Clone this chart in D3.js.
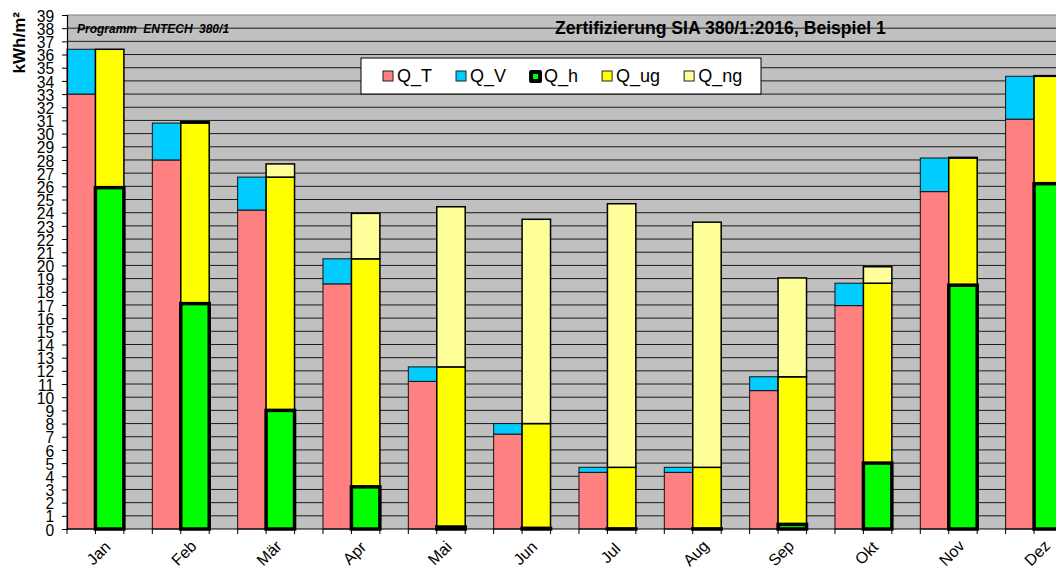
<!DOCTYPE html>
<html>
<head>
<meta charset="utf-8">
<script src="https://cdn.jsdelivr.net/npm/d3@7"></script>
<style>
  html, body { margin: 0; padding: 0; background: #fff; }
  svg { display: block; font-family: "Liberation Sans", Arial, sans-serif; }
</style>
</head>
<body>
<div id="chart"></div>
<script>
// monthly values, kWh/m2
let months = ["Jan", "Feb", "Mär", "Apr", "Mai", "Jun", "Jul", "Aug", "Sep", "Okt", "Nov", "Dez"];
let q_t  = [33.0, 28.0, 24.2, 18.6, 11.2, 7.2, 4.3, 4.3, 10.5, 16.95, 25.6, 31.1];
let q_v  = [3.4, 2.8, 2.5, 1.9, 1.1, 0.8, 0.38, 0.38, 1.05, 1.7, 2.55, 3.25];
let q_h  = [25.9, 17.1, 9.0, 3.2, 0.15, 0.05, 0.01, 0.01, 0.35, 5.0, 18.5, 26.2];
let q_ug = [10.5, 13.7, 17.7, 17.3, 12.15, 7.95, 4.67, 4.67, 11.2, 13.65, 9.65, 8.15];
let q_ng = [0, 0.1, 1.0, 3.45, 12.15, 15.5, 20.0, 18.6, 7.5, 1.25, 0.05, 0.05];
let y_ticks = d3.range(0, 40);
let legend_items = [
    {key: "Q_T", color: "#ff8080"},
    {key: "Q_V", color: "#00ccff"},
    {key: "Q_h", color: "#00ff00"},
    {key: "Q_ug", color: "#ffff00"},
    {key: "Q_ng", color: "#ffff99"}
];
let title = "Zertifizierung SIA 380/1:2016, Beispiel 1";
let subtitle = "Programm ENTECH 380/1";
let y_label = "kWh/m²";

let width = 1056;
let height = 570;
let margin = ({top: 15, left: 67, bottom: 41});
let band_w = 85.33;

let color = key => legend_items.find(d => d.key == key).color;

let svg = d3.select("#chart").append("svg")
            .attr("width", width)
            .attr("height", height);

let x = d3.scaleBand()
          .domain(months)
          .range([margin.left, margin.left + band_w * months.length])
          .padding(0);

let sub = d3.scaleBand()
            .domain(["loss", "gain", "gap"])
            .range([0, x.bandwidth()]);

let y = d3.scaleLinear()
          .domain([0, 39])
          .range([height - margin.bottom, margin.top]);

// plot background
svg.append("rect")
   .attr("x", margin.left)
   .attr("y", y(39))
   .attr("width", x.range()[1] - margin.left)
   .attr("height", y(0) - y(39))
   .attr("fill", "#c0c0c0");

// grid
svg.append("g")
   .selectAll("line")
   .data(y_ticks.filter(d => d > 0))
   .join("line")
   .attr("x1", margin.left)
   .attr("x2", x.range()[1])
   .attr("y1", d => y(d))
   .attr("y2", d => y(d))
   .attr("stroke", d => d == 39 ? "#808080" : "#1a1a1a")
   .attr("stroke-width", 1);

// stacked data per month
let rows = months.map((m, i) => ({
    month: m,
    loss: [["Q_T", 0, q_t[i]], ["Q_V", q_t[i], q_t[i] + q_v[i]]],
    gain: [["Q_ug", q_h[i], q_h[i] + q_ug[i]], ["Q_ng", q_h[i] + q_ug[i], q_h[i] + q_ug[i] + q_ng[i]]],
    heat: ["Q_h", 0, q_h[i]]
}));

let bars = svg.append("g");

bars.selectAll("g.loss")
    .data(rows)
    .join("g")
    .attr("class", "loss")
    .selectAll("rect")
    .data(d => d.loss.map(s => ({month: d.month, key: s[0], y0: s[1], y1: s[2]})))
    .join("rect")
    .attr("x", d => x(d.month) + sub("loss"))
    .attr("y", d => y(d.y1))
    .attr("width", sub.bandwidth())
    .attr("height", d => y(d.y0) - y(d.y1))
    .attr("fill", d => color(d.key))
    .attr("stroke", "#111")
    .attr("stroke-width", 1);

bars.selectAll("g.gain")
    .data(rows)
    .join("g")
    .attr("class", "gain")
    .selectAll("rect")
    .data(d => d.gain.filter(s => s[2] > s[1]).map(s => ({month: d.month, key: s[0], y0: s[1], y1: s[2]})))
    .join("rect")
    .attr("x", d => x(d.month) + sub("gain"))
    .attr("y", d => y(d.y1))
    .attr("width", sub.bandwidth())
    .attr("height", d => y(d.y0) - y(d.y1))
    .attr("fill", d => color(d.key))
    .attr("stroke", "#000")
    .attr("stroke-width", 1.5);

bars.selectAll("rect.heat")
    .data(rows)
    .join("rect")
    .attr("class", "heat")
    .attr("x", d => x(d.month) + sub("gain"))
    .attr("y", d => y(d.heat[2]))
    .attr("width", sub.bandwidth())
    .attr("height", d => y(0) - y(d.heat[2]))
    .attr("fill", color("Q_h"))
    .attr("stroke", "#000")
    .attr("stroke-width", 3.5);

// y axis
let y_axis = svg.append("g")
   .attr("transform", `translate(${margin.left},0)`)
   .call(d3.axisLeft(y).tickValues(y_ticks).tickSize(5).tickPadding(9).tickFormat(d3.format("d")));
y_axis.select(".domain").attr("stroke", "#000").attr("stroke-width", 1.2);
y_axis.selectAll(".tick line").attr("stroke", "#000");
y_axis.selectAll(".tick text")
      .attr("font-size", 17)
      .attr("fill", "#000")
      .style("font-family", "Liberation Sans, Arial, sans-serif")
      .attr("transform", "scale(0.92,1)")
      .attr("dy", "0.36em");

// x axis with ticks at every third of a month
let x_ticks = d3.range(0, months.length * 3 + 1);
let xa = svg.append("g");
xa.append("line")
  .attr("x1", margin.left).attr("x2", x.range()[1])
  .attr("y1", y(0)).attr("y2", y(0))
  .attr("stroke", "#000").attr("stroke-width", 1.2);
xa.selectAll("line.tick")
  .data(x_ticks)
  .join("line")
  .attr("class", "tick")
  .attr("x1", d => margin.left + d * band_w / 3)
  .attr("x2", d => margin.left + d * band_w / 3)
  .attr("y1", y(0)).attr("y2", y(0) + 5)
  .attr("stroke", "#000");
xa.selectAll("text")
  .data(months)
  .join("text")
  .attr("transform", d => `translate(${x(d) + sub("gain") + 3},${y(0) + 24}) rotate(-45)`)
  .attr("text-anchor", "middle")
  .attr("dy", "0.35em")
  .attr("font-size", 16)
  .text(d => d);

// y label
svg.append("text")
   .attr("transform", "translate(25,12) rotate(-90)")
   .attr("text-anchor", "end")
   .attr("font-size", 17)
   .attr("font-weight", "bold")
   .text(y_label);

// titles
svg.append("text")
   .attr("x", 77).attr("y", 33)
   .attr("font-size", 12)
   .attr("font-weight", "bold")
   .attr("font-style", "italic")
   .attr("word-spacing", 3)
   .text(subtitle);

svg.append("text")
   .attr("x", 555).attr("y", 34)
   .attr("font-size", 17.6)
   .attr("font-weight", "bold")
   .text(title);

// legend
let lg = svg.append("g");
lg.append("rect")
  .attr("x", 361).attr("y", 58)
  .attr("width", 400).attr("height", 36)
  .attr("fill", "#fff").attr("stroke", "#000");

let lx = 383;
legend_items.forEach(it => {
    let g = lg.append("g");
    if (it.key == "Q_h") {
        g.append("rect").attr("x", lx - 1).attr("y", 70).attr("width", 13).attr("height", 13)
         .attr("rx", 2).attr("fill", "#000");
        g.append("rect").attr("x", lx + 3).attr("y", 74).attr("width", 5).attr("height", 5)
         .attr("fill", it.color);
    } else {
        g.append("rect").attr("x", lx).attr("y", 71).attr("width", 10).attr("height", 10)
         .attr("fill", it.color).attr("stroke", "#222").attr("stroke-width", 1);
    }
    let t = g.append("text")
             .attr("x", lx + 14).attr("y", 82)
             .attr("font-size", 18)
             .text(it.key);
    lx += 14 + t.node().getComputedTextLength() + 24;
});
</script>
</body>
</html>
